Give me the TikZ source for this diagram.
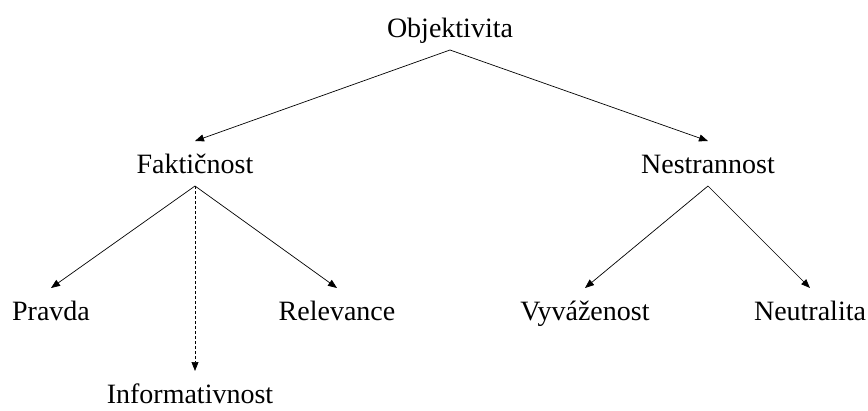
\documentclass[tikz,border=0pt]{standalone}
\usepackage{fontspec}
\setmainfont{Liberation Serif}
\usepackage{tikz}
\usetikzlibrary{arrows.meta,positioning,calc}
\tikzset{
  term/.style={anchor=base,inner sep=0pt,outer xsep=0pt,outer ysep=13pt,text height=19pt,text depth=0pt},
  link/.style={-{Triangle[length=9pt,width=7pt]},line width=0.7pt},
  weak/.style={link,dash pattern=on 3pt off 2pt},
}
\begin{document}
\begin{tikzpicture}[x=1pt,y=-1pt,font=\fontsize{28}{34}\selectfont]
\useasboundingbox (0,0) rectangle (868,410);
\node[term] (obj) at (450,37) {Objektivita};
\node[term] (fak) at (195,173) {Faktičnost}; \node[term] (nes) at (708,173) {Nestrannost};
\node[term] (pra) at (51,320) {Pravda}; \node[term] (rel) at (337,320) {Relevance};
\node[term] (inf) at (190,403) {Informativnost};
\node[term] (vyv) at (585,320) {Vyváženost}; \node[term] (neu) at (810,320) {Neutralita};
\draw[link] (obj.south) -- (fak.north); \draw[link] (obj.south) -- (nes.north);
\draw[link] (fak.south) -- (pra.north); \draw[link] (fak.south) -- (rel.north);
\draw[weak] (fak.south) -- (fak.south |- inf.north);
\draw[link] (nes.south) -- (vyv.north); \draw[link] (nes.south) -- (neu.north);
\end{tikzpicture}
\end{document}
